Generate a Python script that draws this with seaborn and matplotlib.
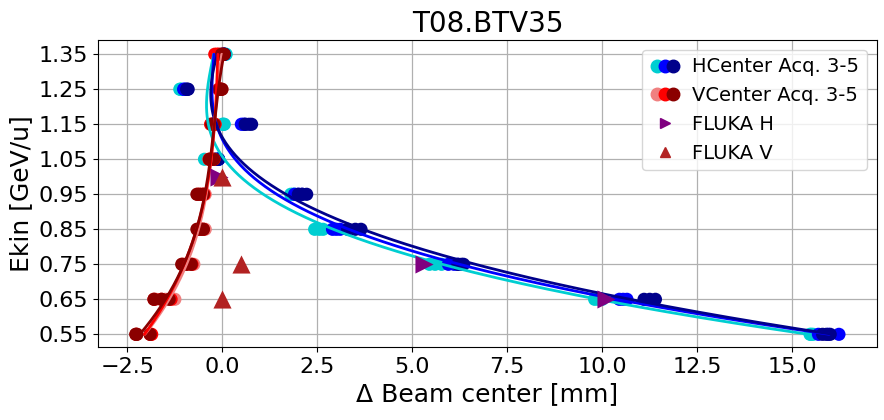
import numpy as np
import pandas as pd
import seaborn as sns
from matplotlib import pyplot as plt
from matplotlib.legend_handler import HandlerTuple
from matplotlib.lines import Line2D
from matplotlib.ticker import MultipleLocator

# kinetic energy steps [GeV/u]
energies = [0.55, 0.65, 0.75, 0.85, 0.95, 1.05, 1.15, 1.25, 1.35]

# horizontal beam centre [mm], three shots per energy, acquisitions 3, 4, 5
h_acq3 = [[15.47, 15.5, 15.55], [9.8, 9.9, 10.0], [5.45, 5.6, 5.77], [2.43, 2.55, 2.65],
          [1.8, 1.85, 1.9], [-0.47, -0.15, -0.1], [0.0, 0.03, 0.05], [-1.12, -1.1, -1.08],
          [0.05, 0.08, 0.1]]
h_acq4 = [[15.69, 15.95, 16.23], [10.45, 10.55, 10.65], [5.95, 6.1, 6.2], [2.9, 3.0, 3.1],
          [1.9, 2.0, 2.1], [-0.15, -0.1, -0.1], [0.5, 0.55, 0.6], [-1.02, -1.0, -0.98],
          [0.0, 0.03, 0.05]]
h_acq5 = [[15.8, 15.9, 16.0], [11.1, 11.25, 11.4], [6.2, 6.3, 6.35], [3.3, 3.5, 3.65],
          [2.0, 2.1, 2.22], [-0.2, -0.15, -0.1], [0.6, 0.7, 0.77], [-0.94, -0.92, -0.9],
          [0.0, 0.03, 0.05]]

# vertical beam centre [mm]
v_acq3 = [[-2.25, -1.9, -1.88], [-1.75, -1.5, -1.25], [-1.0, -0.9, -0.75], [-0.6, -0.55, -0.45],
          [-0.6, -0.5, -0.45], [-0.35, -0.3, -0.25], [-0.3, -0.25, -0.2], [-0.07, -0.04, -0.01],
          [-0.1, -0.05, 0.0]]
v_acq4 = [[-2.27, -1.9, -1.86], [-1.8, -1.6, -1.35], [-1.05, -0.95, -0.8], [-0.65, -0.55, -0.5],
          [-0.65, -0.55, -0.48], [-0.35, -0.3, -0.22], [-0.31, -0.25, -0.19], [-0.1, -0.07, -0.04],
          [-0.2, -0.15, -0.1]]
v_acq5 = [[-2.28, -2.25, -1.9], [-1.8, -1.6, -1.4], [-1.07, -0.95, -0.82], [-0.67, -0.58, -0.5],
          [-0.67, -0.6, -0.5], [-0.34, -0.28, -0.23], [-0.28, -0.25, -0.22], [-0.07, -0.04, -0.01],
          [-0.02, 0.02, 0.05]]

# FLUKA simulation
fluka_e = [1.0, 0.75, 0.65]
fluka_h = [-0.1, 5.3, 10.1]
fluka_v = [0.0, 0.5, 0.0]

h_colors = ["darkturquoise", "blue", "darkblue"]
v_colors = ["lightcoral", "red", "darkred"]


def to_frame(acqs, plane):
    rows = []
    for i, acq in enumerate(acqs):
        for e, shots in zip(energies, acq):
            for x in shots:
                rows.append({"plane": plane, "acq": f"{plane}{i + 3}", "E": e, "x": x})
    return pd.DataFrame(rows)


def fit_frame(df, deg=3):
    # cubic fit of centre vs energy, per acquisition
    rows = []
    e_fine = np.linspace(min(energies), max(energies), 200)
    for acq, sub in df.groupby("acq", sort=False):
        p = np.polyfit(sub["E"], sub["x"], deg)
        for e, x in zip(e_fine, np.polyval(p, e_fine)):
            rows.append({"acq": acq, "E": e, "x": x})
    return pd.DataFrame(rows)


df_h = to_frame([h_acq3, h_acq4, h_acq5], "H")
df_v = to_frame([v_acq3, v_acq4, v_acq5], "V")
fit_h = fit_frame(df_h)
fit_v = fit_frame(df_v)

sns.set_style("ticks", {"axes.grid": True})
plt.rcParams.update({"text.color": "black", "axes.labelcolor": "black",
                     "xtick.color": "black", "ytick.color": "black",
                     "axes.edgecolor": "black"})
fig, ax = plt.subplots(figsize=(8.84, 4.2), dpi=100)
fig.subplots_adjust(left=0.111, right=0.992, top=0.905, bottom=0.174)

pal_h = dict(zip(["H3", "H4", "H5"], h_colors))
pal_v = dict(zip(["V3", "V4", "V5"], v_colors))

sns.scatterplot(data=df_h, x="x", y="E", hue="acq", palette=pal_h, s=90,
                linewidth=0, legend=False, ax=ax, zorder=3)
sns.scatterplot(data=df_v, x="x", y="E", hue="acq", palette=pal_v, s=90,
                linewidth=0, legend=False, ax=ax, zorder=3)
sns.lineplot(data=fit_h, x="x", y="E", hue="acq", palette=pal_h, sort=False,
             estimator=None, lw=2, legend=False, ax=ax, zorder=4)
sns.lineplot(data=fit_v, x="x", y="E", hue="acq", palette=pal_v, sort=False,
             estimator=None, lw=2, legend=False, ax=ax, zorder=4)
sns.scatterplot(x=fluka_h, y=fluka_e, marker=">", color="purple", s=170,
                linewidth=0, ax=ax, zorder=5)
sns.scatterplot(x=fluka_v, y=fluka_e, marker="^", color="firebrick", s=170,
                linewidth=0, ax=ax, zorder=5)

ax.set_xlim(-3.27, 17.23)
ax.set_ylim(0.514, 1.391)
ax.xaxis.set_major_locator(MultipleLocator(2.5))
ax.set_yticks(energies)
ax.set_yticklabels([f"{e:.2f}" for e in energies])
ax.tick_params(labelsize=16)
ax.grid(True, color="#b0b0b0", lw=0.9)
ax.set_title("T08.BTV35", fontsize=20)
ax.set_xlabel("Δ Beam center [mm]", fontsize=18)
ax.set_ylabel("Ekin [GeV/u]", fontsize=18)


def dot(c):
    return Line2D([], [], ls="", marker="o", color=c, markersize=9)


handles = [tuple(dot(c) for c in h_colors), tuple(dot(c) for c in v_colors),
           Line2D([], [], ls="", marker=">", color="purple", markersize=7),
           Line2D([], [], ls="", marker="^", color="firebrick", markersize=7)]
labels = ["HCenter Acq. 3-5", "VCenter Acq. 3-5", "FLUKA H", "FLUKA V"]
ax.legend(handles, labels, loc="upper right", fontsize=14,
          handler_map={tuple: HandlerTuple(ndivide=None, pad=-0.35)},
          handlelength=1.6, borderpad=0.4, labelspacing=0.5, handletextpad=0.6)

fig.savefig("out.png", dpi=100)
